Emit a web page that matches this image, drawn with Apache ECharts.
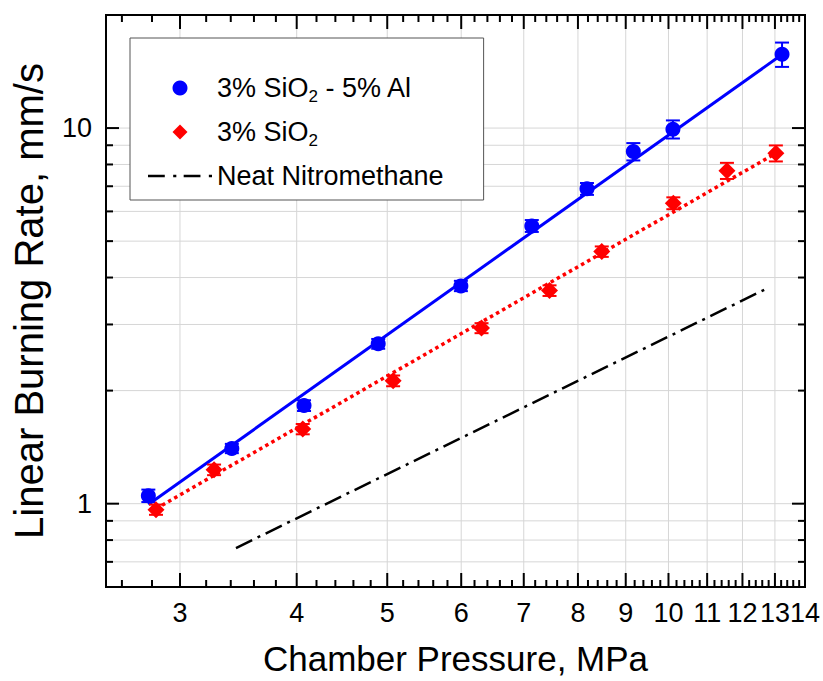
<!DOCTYPE html>
<html>
<head>
<meta charset="utf-8">
<script src="https://cdn.jsdelivr.net/npm/echarts@6.0.0/dist/echarts.min.js"></script>
<style>
  html, body { margin: 0; padding: 0; background: #fff; }
  #chart { width: 823px; height: 681px; }
</style>
</head>
<body>
<div id="chart"></div>
<script>
const FONT = '"Liberation Sans", Arial, sans-serif';

const X_MIN = 2.5;
const X_MAX = 14;
const Y_MIN = 0.6;
const Y_MAX = 20;

// tick positions (MPa / mm/s)
const X_LABELS = [3, 4, 5, 6, 7, 8, 9, 10, 11, 12, 13, 14];
const X_MINOR = [2.6, 2.8, 3.2, 3.4, 3.6, 3.8, 4.2, 4.4, 4.6, 4.8, 5.2, 5.4, 5.6, 5.8,
  6.2, 6.4, 6.6, 6.8, 7.2, 7.4, 7.6, 7.8, 8.2, 8.4, 8.6, 8.8, 9.2, 9.4, 9.6, 9.8,
  10.2, 10.4, 10.6, 10.8, 11.2, 11.4, 11.6, 11.8, 12.2, 12.4, 12.6, 12.8,
  13.2, 13.4, 13.6, 13.8];
const X_GRID = [3, 4, 5, 6, 7, 8, 9, 10, 11, 12, 13];
const Y_LABELS = [1, 10];
const Y_MINOR = [0.7, 0.8, 0.9, 2, 3, 4, 5, 6, 7, 8, 9];
const Y_GRID = [0.7, 0.8, 0.9, 1, 2, 3, 4, 5, 6, 7, 8, 9, 10];

const NAME_AL = '3% SiO2 - 5% Al';
const NAME_SI = '3% SiO2';
const NAME_NM = 'Neat Nitromethane';

// 3% SiO2 - 5% Al
const AL_P = [2.775, 3.409, 4.073, 4.89, 5.995, 7.14, 8.18, 9.17, 10.11, 13.23];
const AL_R = [1.05, 1.403, 1.825, 2.665, 3.80, 5.49, 6.89, 8.66, 9.93, 15.72];
const AL_ERR = [0.04, 0.04, 0.06, 0.08, 0.12, 0.2, 0.25, 0.46, 0.55, 1.17];
const AL_FIT_P = [2.775, 13.23];
const AL_FIT_R = [0.995, 15.7];

// 3% SiO2
const SI_P = [2.828, 3.263, 4.06, 5.073, 6.308, 7.459, 8.484, 10.12, 11.55, 13.03];
const SI_R = [0.964, 1.231, 1.58, 2.124, 2.934, 3.693, 4.69, 6.31, 7.7, 8.57];
const SI_ERR = [0.03, 0.04, 0.05, 0.07, 0.09, 0.12, 0.15, 0.23, 0.38, 0.42];
const SI_FIT_P = [2.828, 13.03];
const SI_FIT_R = [0.97, 8.57];

// neat nitromethane
const NM_P = [3.444, 12.66];
const NM_R = [0.762, 3.71];

// legend glyphs
const ICON_DIAMOND = 'path://M5,0L10,5L5,10L0,5Z';
const ICON_DASHDOT = 'path://M0,0h16v2.5h-16z M24,0h3v2.5h-3z M34,0h16v2.5h-16z M58,0h3v2.5h-3z';

const pairs = (xs, ys) => xs.map((x, i) => [x, ys[i]]);

function xLines(len) {
  return (params, api) => {
    const v = api.value(0);
    const b = api.coord([v, Y_MIN]);
    const t = api.coord([v, Y_MAX]);
    const style = { stroke: '#000', lineWidth: 2 };
    if (len == null) {
      return { type: 'line', shape: { x1: b[0], y1: b[1], x2: t[0], y2: t[1] },
        style: { stroke: '#d6d6d6', lineWidth: 1 } };
    }
    return {
      type: 'group',
      children: [
        { type: 'line', shape: { x1: b[0], y1: b[1], x2: b[0], y2: b[1] - len }, style },
        { type: 'line', shape: { x1: t[0], y1: t[1], x2: t[0], y2: t[1] + len }, style }
      ]
    };
  };
}

function yLines(len) {
  return (params, api) => {
    const v = api.value(1);
    const l = api.coord([X_MIN, v]);
    const r = api.coord([X_MAX, v]);
    const style = { stroke: '#000', lineWidth: 2 };
    if (len == null) {
      return { type: 'line', shape: { x1: l[0], y1: l[1], x2: r[0], y2: r[1] },
        style: { stroke: '#d6d6d6', lineWidth: 1 } };
    }
    return {
      type: 'group',
      children: [
        { type: 'line', shape: { x1: l[0], y1: l[1], x2: l[0] + len, y2: l[1] }, style },
        { type: 'line', shape: { x1: r[0], y1: r[1], x2: r[0] - len, y2: r[1] }, style }
      ]
    };
  };
}

function errorBars(color) {
  return (params, api) => {
    const x = api.value(0);
    const y = api.value(1);
    const e = api.value(2);
    const hi = api.coord([x, y + e]);
    const lo = api.coord([x, y - e]);
    const w = 7;
    const style = { stroke: color, lineWidth: 2 };
    return {
      type: 'group',
      children: [
        { type: 'line', shape: { x1: hi[0], y1: hi[1], x2: lo[0], y2: lo[1] }, style },
        { type: 'line', shape: { x1: hi[0] - w, y1: hi[1], x2: hi[0] + w, y2: hi[1] }, style },
        { type: 'line', shape: { x1: lo[0] - w, y1: lo[1], x2: lo[0] + w, y2: lo[1] }, style }
      ]
    };
  };
}

const chart = echarts.init(document.getElementById('chart'), null, { renderer: 'svg' });

chart.setOption({
  animation: false,
  backgroundColor: '#fff',
  grid: {
    left: 106, right: 18, top: 15, bottom: 94,
    show: true, borderColor: '#000', borderWidth: 2, backgroundColor: 'transparent'
  },
  legend: {
    orient: 'vertical',
    left: 130,
    top: 38,
    padding: [33, 40, 7, 18],
    itemGap: 10,
    itemWidth: 64,
    itemHeight: 15,
    backgroundColor: '#fff',
    borderColor: '#555',
    borderWidth: 1,
    selectedMode: false,
    z: 10,
    data: [
      { name: NAME_AL, icon: 'circle' },
      { name: NAME_SI, icon: ICON_DIAMOND },
      { name: NAME_NM, icon: ICON_DASHDOT }
    ],
    formatter: (name) => name.replace('SiO2', 'SiO{sub|2}'),
    textStyle: {
      fontSize: 27,
      lineHeight: 34,
      color: '#000',
      fontFamily: FONT,
      rich: {
        sub: { fontSize: 17, lineHeight: 6, verticalAlign: 'bottom', color: '#000', fontFamily: FONT }
      }
    }
  },
  xAxis: {
    type: 'log',
    logBase: 10,
    min: X_MIN,
    max: X_MAX,
    name: 'Chamber Pressure, MPa',
    nameLocation: 'middle',
    nameGap: 54,
    nameTextStyle: { fontSize: 35, color: '#000', fontFamily: FONT },
    axisLine: { show: false },
    axisTick: { show: false },
    axisLabel: { show: false },
    splitLine: { show: false }
  },
  yAxis: {
    type: 'log',
    logBase: 10,
    min: Y_MIN,
    max: Y_MAX,
    name: 'Linear Burning Rate, mm/s',
    nameLocation: 'middle',
    nameGap: 57,
    nameTextStyle: { fontSize: 40, color: '#000', fontFamily: FONT },
    axisLine: { show: false },
    axisTick: { show: false },
    axisLabel: { show: false },
    splitLine: { show: false }
  },
  series: [
    { type: 'custom', silent: true, z: 1, data: X_GRID.map((v) => [v, Y_MIN]), renderItem: xLines(null) },
    { type: 'custom', silent: true, z: 1, data: Y_GRID.map((v) => [X_MIN, v]), renderItem: yLines(null) },
    { type: 'custom', silent: true, z: 6, data: X_LABELS.map((v) => [v, Y_MIN]), renderItem: xLines(14) },
    { type: 'custom', silent: true, z: 6, data: X_MINOR.map((v) => [v, Y_MIN]), renderItem: xLines(7) },
    { type: 'custom', silent: true, z: 6, data: Y_LABELS.map((v) => [X_MIN, v]), renderItem: yLines(13) },
    { type: 'custom', silent: true, z: 6, data: Y_MINOR.map((v) => [X_MIN, v]), renderItem: yLines(7) },
    {
      type: 'custom', silent: true, z: 6,
      data: X_LABELS.map((v) => [v, Y_MIN]),
      renderItem: (params, api) => {
        const p = api.coord([api.value(0), Y_MIN]);
        return { type: 'text', x: p[0], y: p[1] + 12,
          style: { text: String(api.value(0)), fill: '#000', fontSize: 27, fontFamily: FONT,
            align: 'center', verticalAlign: 'top' } };
      }
    },
    {
      type: 'custom', silent: true, z: 6,
      data: Y_LABELS.map((v) => [X_MIN, v]),
      renderItem: (params, api) => {
        const p = api.coord([X_MIN, api.value(1)]);
        return { type: 'text', x: p[0] - 14, y: p[1],
          style: { text: String(api.value(1)), fill: '#000', fontSize: 27, fontFamily: FONT,
            align: 'right', verticalAlign: 'middle' } };
      }
    },
    {
      name: 'al-fit', type: 'line', silent: true, z: 2, symbol: 'none',
      data: pairs(AL_FIT_P, AL_FIT_R),
      lineStyle: { color: '#0000ff', width: 3 }
    },
    {
      name: 'si-fit', type: 'line', silent: true, z: 2, symbol: 'none',
      data: pairs(SI_FIT_P, SI_FIT_R),
      lineStyle: { color: '#ff0000', width: 3.5, type: [3.5, 3.5] }
    },
    {
      name: NAME_NM, type: 'line', silent: true, z: 2, symbol: 'none',
      data: pairs(NM_P, NM_R),
      itemStyle: { color: '#000' },
      lineStyle: { color: '#000', width: 2.5, type: [18, 6, 3, 6] }
    },
    {
      type: 'custom', silent: true, z: 3,
      data: AL_P.map((x, i) => [x, AL_R[i], AL_ERR[i]]),
      renderItem: errorBars('#0000ff')
    },
    {
      type: 'custom', silent: true, z: 3,
      data: SI_P.map((x, i) => [x, SI_R[i], SI_ERR[i]]),
      renderItem: errorBars('#ff0000')
    },
    {
      name: NAME_AL, type: 'scatter', silent: true, z: 4,
      symbol: 'circle', symbolSize: 15,
      itemStyle: { color: '#0000ff', opacity: 1 },
      data: pairs(AL_P, AL_R)
    },
    {
      name: NAME_SI, type: 'scatter', silent: true, z: 4,
      symbol: 'diamond', symbolSize: 17,
      itemStyle: { color: '#ff0000', opacity: 1 },
      data: pairs(SI_P, SI_R)
    }
  ]
});
</script>
</body>
</html>
